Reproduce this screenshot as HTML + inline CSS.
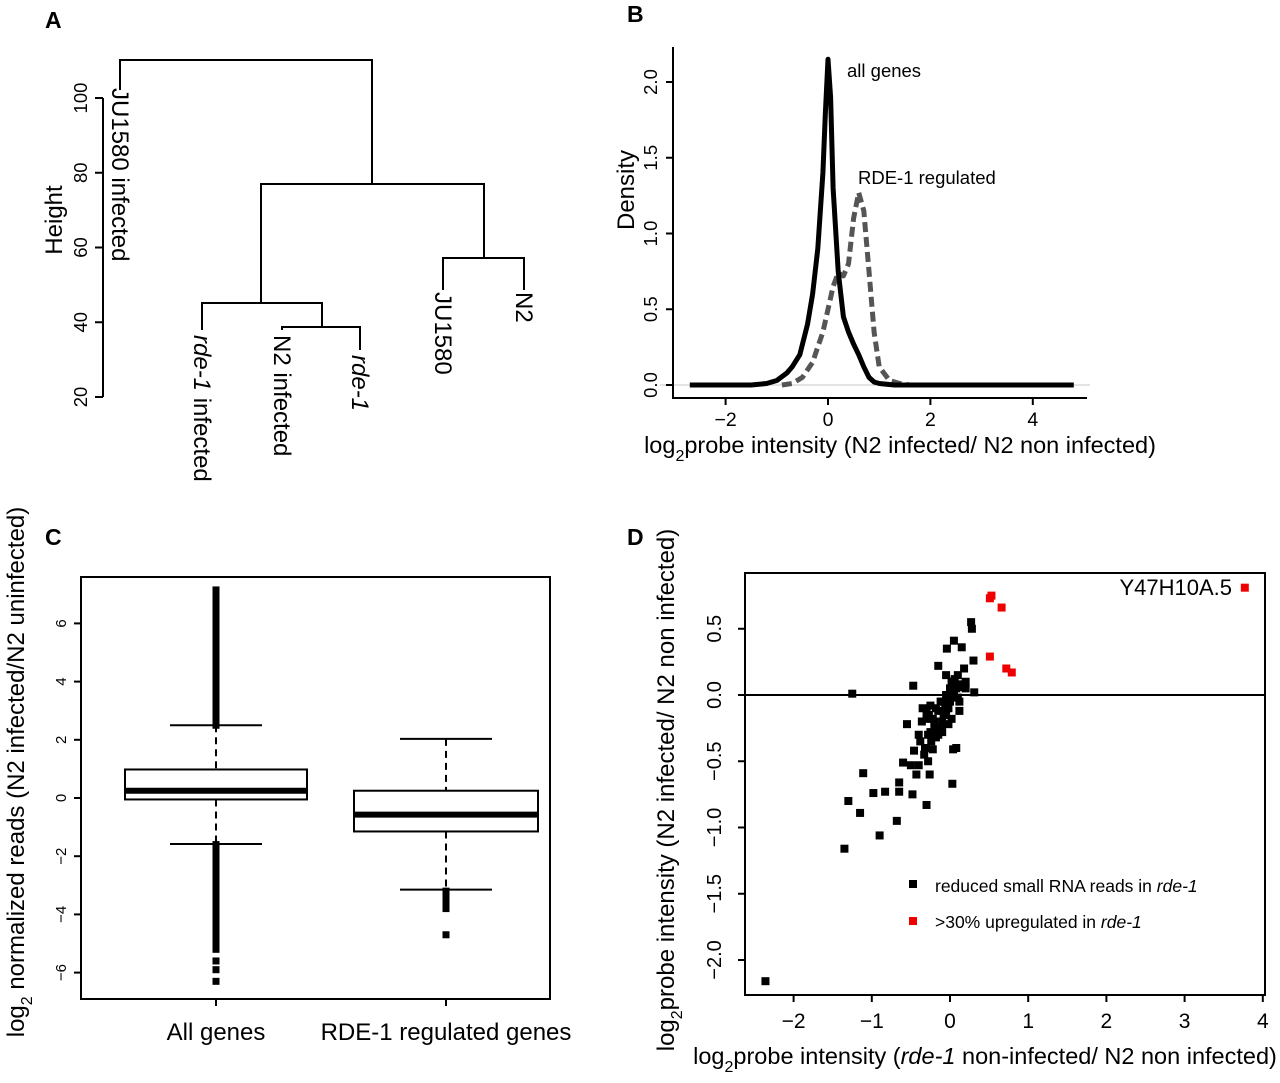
<!DOCTYPE html>
<html><head><meta charset="utf-8"><style>
html,body{margin:0;padding:0;background:#fff;}
svg{display:block;font-family:"Liberation Sans",Arial,sans-serif;}
</style></head><body>
<svg id="fig" width="1280" height="1083" viewBox="0 0 1280 1083" xmlns="http://www.w3.org/2000/svg">
<text x="45" y="28" font-size="23" font-weight="bold">A</text>
<text x="627" y="22" font-size="23" font-weight="bold">B</text>
<text x="45" y="545" font-size="23" font-weight="bold">C</text>
<text x="627" y="545" font-size="23" font-weight="bold">D</text>

<g id="panelA" stroke="#000" stroke-width="2" fill="none">
  <line x1="103" y1="98" x2="103" y2="397"/>
  <g id="aTicks"></g>
  <path d="M120,90 V60 H372 V184 M261,303 V184 H484 V258 M202,330 V303 H322 V327 M282,330 V327 H360 V350 M443,290 V258 H524 V290"/>
</g>
<g font-size="24" fill="#000">
  <text transform="translate(62,220) rotate(-90)" text-anchor="middle">Height</text>
  <text transform="translate(112,88) rotate(90)">JU1580 infected</text>
  <text transform="translate(194,335) rotate(90)"><tspan font-style="italic">rde-1</tspan> infected</text>
  <text transform="translate(274,335) rotate(90)">N2 infected</text>
  <text transform="translate(352,355) rotate(90)" font-style="italic">rde-1</text>
  <text transform="translate(435,292) rotate(90)">JU1580</text>
  <text transform="translate(516,292) rotate(90)">N2</text>
</g>

<g id="panelB">
  <line x1="660" y1="385" x2="1090" y2="385" stroke="#c8c8c8" stroke-width="1"/>
  <path d="M673,47 V398 H1087" stroke="#000" stroke-width="2" fill="none"/>
  <g id="bTicks"></g>
  <path id="bRde" fill="none" stroke="#555" stroke-width="5" stroke-dasharray="10,5" stroke-linejoin="round"/>
  <path id="bAll" fill="none" stroke="#000" stroke-width="5" stroke-linejoin="round"/>
  <text x="847" y="77" font-size="18.5">all genes</text>
  <text x="858" y="184" font-size="18.5">RDE-1 regulated</text>
  <text transform="translate(634,190) rotate(-90)" text-anchor="middle" font-size="24">Density</text>
  <text x="900" y="453" text-anchor="middle" font-size="23.5">log<tspan font-size="16" dy="8">2</tspan><tspan dy="-8">probe intensity (N2 infected/ N2 non infected)</tspan></text>
</g>

<g id="panelC">
  <rect x="81" y="577" width="469" height="422" fill="none" stroke="#000" stroke-width="2"/>
  <g id="cTicks"></g>
  <g id="cBoxes"></g>
  <text transform="translate(24,772) rotate(-90)" text-anchor="middle" font-size="24">log<tspan font-size="16" dy="8">2</tspan><tspan dy="-8"> normalized reads (N2 infected/N2 uninfected)</tspan></text>
</g>

<g id="panelD">
  <rect x="745" y="573" width="520" height="422" fill="none" stroke="#000" stroke-width="2"/>
  <g id="dTicks"></g>
  <line id="dZero" x1="745" x2="1265" y1="695" y2="695" stroke="#000" stroke-width="2"/>
  <g id="dPts"></g>
  <text x="1232" y="595" text-anchor="end" font-size="22">Y47H10A.5</text>
  <rect x="909" y="880" width="8" height="8" fill="#000"/>
  <text x="935" y="892" font-size="17.5">reduced small RNA reads in <tspan font-style="italic">rde-1</tspan></text>
  <rect x="909" y="917" width="8" height="8" fill="#e00"/>
  <text x="935" y="928" font-size="17.5">&gt;30% upregulated in <tspan font-style="italic">rde-1</tspan></text>
  <text transform="translate(674,790) rotate(-90)" text-anchor="middle" font-size="24">log<tspan font-size="16" dy="8">2</tspan><tspan dy="-8">probe intensity (N2 infected/ N2 non infected)</tspan></text>
  <text x="985" y="1064" text-anchor="middle" font-size="23.5">log<tspan font-size="16" dy="8">2</tspan><tspan dy="-8">probe intensity (</tspan><tspan font-style="italic">rde-1</tspan> non-infected/ N2 non infected)</text>
</g>
</svg>
<script>
const NS='http://www.w3.org/2000/svg';
// Panel A
const aTickVals=[20,40,60,80,100];
// Panel B
const bTickX=[-2,0,2,4];
const bTickY=[0.0,0.5,1.0,1.5,2.0];
const allX=[-2.7,-1.5,-1.2,-1.0,-0.8,-0.7,-0.55,-0.4,-0.3,-0.2,-0.1,-0.05,0,0.05,0.1,0.2,0.3,0.4,0.5,0.6,0.7,0.8,0.9,1.0,1.3,4.8];
const allY=[0,0,0.01,0.03,0.08,0.12,0.2,0.4,0.6,0.9,1.4,1.8,2.15,1.9,1.3,0.75,0.45,0.35,0.27,0.2,0.12,0.05,0.02,0.01,0,0];
const rdeX=[-0.9,-0.7,-0.5,-0.3,-0.1,0,0.1,0.2,0.3,0.4,0.5,0.6,0.7,0.8,0.9,1.0,1.2,1.4,1.6,3.5];
const rdeY=[0,0.01,0.05,0.15,0.35,0.5,0.65,0.74,0.72,0.8,1.1,1.27,1.15,0.75,0.35,0.12,0.03,0.01,0,0];
// Panel C
const cTickY=[-6,-4,-2,0,2,4,6];
const cCats=['All genes','RDE-1 regulated genes'];
const cQ1=[-0.05,-1.15];
const cMed=[0.25,-0.57];
const cQ3=[0.98,0.25];
const cLo=[-1.58,-3.15];
const cHi=[2.5,2.03];
const cOutHi0=[2.5,2.7,2.9,3.1,3.3,3.5,3.7,3.9,4.1,4.3,4.5,4.7,4.9,5.1,5.3,5.5,5.7,5.9,6.1,6.3,6.5,6.7,6.9,7.05,7.15];
const cOutLo0=[-1.6,-1.8,-2.0,-2.2,-2.4,-2.6,-2.8,-3.0,-3.2,-3.4,-3.6,-3.8,-4.0,-4.2,-4.4,-4.6,-4.8,-5.0,-5.2,-5.6,-5.9,-6.3];
const cOutLo1=[-3.2,-3.35,-3.5,-3.65,-3.8,-4.7];
// Panel D
const dTickX=[-2,-1,0,1,2,3,4];
const dTickY=[-2.0,-1.5,-1.0,-0.5,0.0,0.5];
const blackX=[-2.36,-1.35,-1.3,-1.25,-1.15,-1.11,-0.98,-0.9,-0.83,-0.68,-0.65,-0.65,-0.6,-0.55,-0.5,-0.48,-0.47,-0.46,-0.43,-0.4,-0.38,-0.3,-0.28,-0.26,-0.25,-0.22,-0.2,-0.18,-0.15,-0.12,-0.1,-0.08,-0.05,-0.04,-0.02,0,0.02,0.03,0.04,0.05,0.06,0.08,0.1,0.12,0.15,0.18,0.2,0.27,0.28,0.3,0.31,-0.35,-0.3,-0.25,-0.2,-0.15,-0.1,-0.05,0,0.05,0.1,-0.32,-0.28,-0.22,-0.18,-0.12,-0.08,-0.02,0.05,0.1,0.14,-0.36,-0.3,-0.24,-0.16,-0.06,0.0,0.08,0.12,-0.4,-0.33,-0.27,-0.1,0.02,0.12,0.2,-0.05,-0.15];
const blackY=[-2.16,-1.16,-0.8,0.01,-0.89,-0.59,-0.74,-1.06,-0.73,-0.95,-0.66,-0.73,-0.51,-0.22,-0.53,-0.75,0.07,-0.42,-0.6,-0.53,-0.35,-0.83,-0.5,-0.6,-0.28,-0.41,-0.2,-0.32,-0.12,-0.25,-0.05,-0.15,0.0,0.35,-0.1,0.05,0.1,-0.67,-0.41,0.41,0.12,-0.4,0.15,0.08,0.36,0.2,0.05,0.55,0.5,0.26,0.02,-0.1,-0.18,-0.08,-0.25,-0.3,-0.2,-0.12,-0.05,0.03,0.08,-0.4,-0.3,-0.18,-0.1,-0.05,-0.15,-0.22,0.1,-0.02,0.06,-0.2,-0.12,-0.35,-0.28,-0.08,0.0,0.05,-0.12,-0.3,-0.45,-0.15,-0.28,-0.18,-0.05,0.1,0.15,0.22];
const redX=[0.51,0.53,0.66,0.51,0.72,0.79,3.77];
const redY=[0.73,0.75,0.66,0.29,0.20,0.17,0.81];

function mk(tag,attrs,parent,text){const e=document.createElementNS(NS,tag);for(const k in attrs)e.setAttribute(k,attrs[k]);if(text!==undefined)e.textContent=text;parent.appendChild(e);return e;}

const aY=v=>397-(v-20)*(299/80);
const aT=document.getElementById('aTicks');
aTickVals.forEach(v=>{
  const l=mk('line',{x1:103,x2:95,y1:aY(v),y2:aY(v)},aT);
  
  
  const t=mk('text',{transform:`translate(87,${aY(v)}) rotate(-90)`,'text-anchor':'middle','font-size':18.5,fill:'#000',stroke:'none'},aT,String(v));
  
  
});

const bx=v=>828+v*51.2, by=v=>385-v*151.5;
const bT=document.getElementById('bTicks');
bTickX.forEach(v=>{
  const l=mk('line',{x1:bx(v),x2:bx(v),y1:398,y2:405,stroke:'#000','stroke-width':2},bT);
  
  
  const t=mk('text',{x:bx(v),y:426,'text-anchor':'middle','font-size':19.5},bT,v<0?'\u2212'+Math.abs(v):String(v));
  
  
});
bTickY.forEach(v=>{
  const l=mk('line',{x1:673,x2:666,y1:by(v),y2:by(v),stroke:'#000','stroke-width':2},bT);
  
  
  const t=mk('text',{transform:`translate(657,${by(v)}) rotate(-90)`,'text-anchor':'middle','font-size':18.5},bT,v.toFixed(1));
  
  
});
document.getElementById('bAll').setAttribute('d',allX.map((x,i)=>(i?'L':'M')+bx(x).toFixed(1)+','+by(allY[i]).toFixed(1)).join(' '));
document.getElementById('bRde').setAttribute('d',rdeX.map((x,i)=>(i?'L':'M')+bx(x).toFixed(1)+','+by(rdeY[i]).toFixed(1)).join(' '));

const cy=v=>798-v*29.1;
const cCenters=[216,446], cHalf=[91,92];
const cT=document.getElementById('cTicks');
cTickY.forEach(v=>{
  const l=mk('line',{x1:81,x2:74,y1:cy(v),y2:cy(v),stroke:'#000','stroke-width':2},cT);
  
  
  const t=mk('text',{transform:`translate(66,${cy(v)}) rotate(-90)`,'text-anchor':'middle','font-size':15},cT,v<0?'\u2212'+Math.abs(v):String(v));
  
  
});
const cB=document.getElementById('cBoxes');
const cOut=[[cOutHi0,cOutLo0],[[],cOutLo1]];
cCats.forEach((c,i)=>{
  const cx=cCenters[i], h=cHalf[i];
  const g=mk('g',{},cB);
  
  
  mk('line',{x1:cx,x2:cx,y1:cy(cHi[i]),y2:cy(cQ3[i]),stroke:'#000','stroke-width':2,'stroke-dasharray':'7,5'},g);
  mk('line',{x1:cx,x2:cx,y1:cy(cQ1[i]),y2:cy(cLo[i]),stroke:'#000','stroke-width':2,'stroke-dasharray':'7,5'},g);
  mk('line',{x1:cx-46,x2:cx+46,y1:cy(cHi[i]),y2:cy(cHi[i]),stroke:'#000','stroke-width':2},g);
  mk('line',{x1:cx-46,x2:cx+46,y1:cy(cLo[i]),y2:cy(cLo[i]),stroke:'#000','stroke-width':2},g);
  mk('rect',{x:cx-h,y:cy(cQ3[i]),width:2*h,height:cy(cQ1[i])-cy(cQ3[i]),fill:'#fff',stroke:'#000','stroke-width':2},g);
  mk('line',{x1:cx-h,x2:cx+h,y1:cy(cMed[i]),y2:cy(cMed[i]),stroke:'#000','stroke-width':6},g);
  cOut[i].forEach(arr=>arr.forEach(v=>{
    const r=mk('rect',{x:cx-3.5,y:cy(v)-3.5,width:7,height:7,fill:'#000'},g);
    
    
  }));
  mk('line',{x1:cx,x2:cx,y1:999,y2:1006,stroke:'#000','stroke-width':2},g);
  const t=mk('text',{x:cx,y:1040,'text-anchor':'middle','font-size':24},cT,c);
  
  
});

const dx=v=>950+v*78.2, dy=v=>695-v*132.5;
const dT=document.getElementById('dTicks');
dTickX.forEach(v=>{
  const l=mk('line',{x1:dx(v),x2:dx(v),y1:995,y2:1002,stroke:'#000','stroke-width':2},dT);
  
  
  const t=mk('text',{x:dx(v),y:1028,'text-anchor':'middle','font-size':21},dT,v<0?'\u2212'+Math.abs(v):String(v));
  
  
});
dTickY.forEach(v=>{
  const l=mk('line',{x1:745,x2:738,y1:dy(v),y2:dy(v),stroke:'#000','stroke-width':2},dT);
  
  
  const t=mk('text',{transform:`translate(721,${dy(v)}) rotate(-90)`,'text-anchor':'middle','font-size':20},dT,(v<0?'\u2212':'')+Math.abs(v).toFixed(1));
  
  
});
document.getElementById('dZero').setAttribute('y1',dy(0));
document.getElementById('dZero').setAttribute('y2',dy(0));
const dP=document.getElementById('dPts');
blackX.forEach((x,i)=>{
  const r=mk('rect',{x:dx(x)-4,y:dy(blackY[i])-4,width:8,height:8,fill:'#000'},dP);
  
  
});
redX.forEach((x,i)=>{
  const r=mk('rect',{x:dx(x)-4,y:dy(redY[i])-4,width:8,height:8,fill:'#e00'},dP);
  
  
});
</script>
</body></html>
